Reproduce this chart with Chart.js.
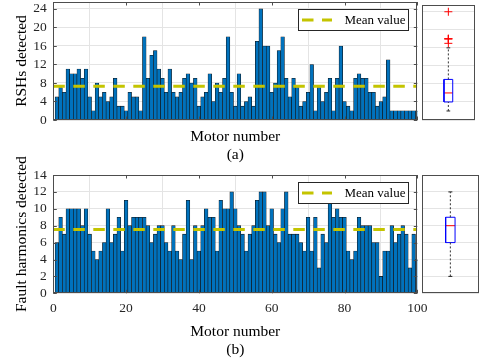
<!DOCTYPE html>
<html>
<head>
<meta charset="utf-8">
<script src="https://cdn.jsdelivr.net/npm/chart.js@4.4.1/dist/chart.umd.min.js"></script>
<style>
  html, body { margin: 0; padding: 0; background: #fff; overflow: hidden; }
  body { width: 480px; height: 358px; position: relative; }
  canvas { position: absolute; left: 0; top: 0; }
</style>
</head>
<body>
<canvas id="rshChart" width="480" height="358"></canvas>
<canvas id="faultChart" width="480" height="358"></canvas>
<canvas id="rshBox" width="480" height="358"></canvas>
<canvas id="faultBox" width="480" height="358"></canvas>
<script>
// motor index 1..100
const motors = Array.from({length: 100}, (_, i) => i + 1);

const rshCounts = [
  5, 7, 6, 11, 10, 10, 11, 9, 11, 5,
  2, 8, 5, 6, 4, 5, 9, 3, 3, 2,
  6, 5, 5, 2, 18, 9, 14, 15, 11, 9,
  6, 11, 6, 5, 6, 9, 10, 8, 9, 3,
  5, 6, 10, 4, 8, 6, 9, 18, 6, 3,
  10, 3, 4, 5, 3, 17, 24, 16, 16, 6,
  8, 15, 18, 9, 5, 9, 7, 3, 4, 6,
  12, 2, 7, 4, 6, 9, 2, 9, 16, 4,
  3, 2, 9, 10, 9, 9, 6, 6, 3, 4,
  5, 13, 2, 2, 2, 2, 2, 2, 2, 2
];

const faultCounts = [
  6, 9, 7, 10, 10, 10, 10, 8, 10, 7,
  5, 4, 5, 6, 10, 6, 7, 9, 5, 11,
  8, 9, 9, 9, 9, 8, 6, 7, 8, 8,
  6, 5, 8, 5, 4, 7, 11, 4, 8, 5,
  8, 10, 9, 9, 5, 11, 10, 10, 12, 10,
  8, 7, 5, 7, 8, 11, 12, 12, 8, 10,
  7, 6, 10, 12, 7, 7, 7, 6, 5, 9,
  5, 9, 3, 7, 6, 11, 9, 10, 9, 9,
  5, 4, 5, 9, 8, 8, 8, 6, 6, 2,
  5, 5, 8, 6, 7, 8, 7, 3, 7, 4
];

const xTicks = [0, 20, 40, 60, 80, 100];
const rshTicks = [0, 4, 8, 12, 16, 20, 24];
const faultTicks = [0, 2, 4, 6, 8, 10, 12, 14];

const serif = '"Liberation Serif", "Times New Roman", serif';
const textCol = '#262626';
const gridCol = '#e4e4e4';
const meanCol = '#c4c400';

// frame around plot area + inward tick marks (matlab style)
const framePlugin = {
  id: 'frame',
  afterDatasetsDraw(chart, args, opts) {
    const {ctx, chartArea: a} = chart;
    ctx.save();
    ctx.strokeStyle = '#4d4d4d';
    ctx.lineWidth = 1;
    ctx.strokeRect(Math.round(a.left) + 0.5, Math.round(a.top) + 0.5,
      Math.round(a.width) - 1, Math.round(a.height) - 1);
    if (opts.ticks) {
      const ys = chart.scales.y, xs = chart.scales.x;
      ctx.beginPath();
      ys.ticks.forEach(t => {
        const p = Math.round(ys.getPixelForValue(t.value)) + 0.5;
        ctx.moveTo(a.left, p); ctx.lineTo(a.left + 3.5, p);
        ctx.moveTo(a.right, p); ctx.lineTo(a.right - 3.5, p);
      });
      xs.ticks.forEach(t => {
        const p = Math.round(xs.getPixelForValue(t.value)) + 0.5;
        ctx.moveTo(p, a.bottom); ctx.lineTo(p, a.bottom - 3.5);
        ctx.moveTo(p, a.top); ctx.lineTo(p, a.top + 3.5);
      });
      ctx.stroke();
    }
    ctx.restore();
  }
};

// boxed legend in the upper right
const legendPlugin = {
  id: 'meanLegend',
  afterDatasetsDraw(chart, args, opts) {
    if (!opts.show) return;
    const {ctx, chartArea: a} = chart;
    const label = chart.data.datasets[0].label;
    const x0 = Math.round(a.right - 119) + 0.5, x1 = Math.round(a.right - 9) + 0.5;
    const y0 = Math.round(a.top + 7) + 0.5, y1 = y0 + 21;
    const yc = (y0 + y1) / 2;
    ctx.save();
    ctx.fillStyle = '#fff';
    ctx.fillRect(x0, y0, x1 - x0, y1 - y0);
    ctx.strokeStyle = textCol;
    ctx.lineWidth = 1;
    ctx.strokeRect(x0, y0, x1 - x0, y1 - y0);
    ctx.strokeStyle = meanCol;
    ctx.lineWidth = 3;
    ctx.setLineDash([11.5, 8.5]);
    ctx.beginPath();
    ctx.moveTo(x0 + 3.5, yc); ctx.lineTo(x0 + 33.5, yc);
    ctx.stroke();
    ctx.setLineDash([]);
    ctx.fillStyle = '#000';
    ctx.font = '13px ' + serif;
    ctx.textBaseline = 'middle';
    ctx.fillText(label, x0 + 46, yc + 0.5);
    ctx.restore();
  }
};

function mean(v) { return v.reduce((s, x) => s + x, 0) / v.length; }

function quant(s, p) {
  const n = s.length, pos = p * n + 0.5;
  if (pos <= 1) return s[0];
  if (pos >= n) return s[n - 1];
  const i = Math.floor(pos);
  return s[i - 1] + (pos - i) * (s[i] - s[i - 1]);
}

function boxStats(vals) {
  const s = [...vals].sort((a, b) => a - b);
  const q1 = quant(s, 0.25), med = quant(s, 0.5), q3 = quant(s, 0.75);
  const iqr = q3 - q1, lo = q1 - 1.5 * iqr, hi = q3 + 1.5 * iqr;
  const inside = s.filter(v => v >= lo && v <= hi);
  return {q1, med, q3, lo: inside[0], hi: inside[inside.length - 1],
    out: s.filter(v => v < lo || v > hi)};
}

// all canvases are full page; padding places each plot area
function barChart(id, counts, yMax, yTicks, yTitle, sub, lay) {
  const m = mean(counts);
  return new Chart(document.getElementById(id), {
    type: 'bar',
    data: {
      datasets: [{
        type: 'line',
        label: 'Mean value',
        data: [{x: 0, y: m}, {x: 100, y: m}],
        borderColor: meanCol,
        borderWidth: 3,
        borderDash: [11.5, 8.5],
        pointRadius: 0,
        order: 0
      }, {
        label: yTitle,
        data: motors.map((n, i) => ({x: n, y: counts[i]})),
        backgroundColor: '#0072bd',
        borderColor: '#111',
        borderWidth: 0.6,
        barPercentage: 1,
        categoryPercentage: 1,
        order: 1
      }]
    },
    options: {
      responsive: false,
      animation: false,
      devicePixelRatio: 1,
      layout: {padding: {top: lay.top, right: 62.7, left: 0, bottom: lay.bottom}},
      plugins: {
        legend: {display: false},
        tooltip: {enabled: false},
        frame: {ticks: true},
        meanLegend: {show: true}
      },
      scales: {
        x: {
          type: 'linear',
          min: 0, max: 100,
          offset: false,
          afterBuildTicks: s => { s.ticks = xTicks.map(v => ({value: v})); },
          afterFit: s => { s.height = lay.xh; s.paddingLeft = 0; s.paddingRight = 0; },
          grid: {color: gridCol, drawTicks: false},
          border: {display: false},
          ticks: {display: lay.xLabels, autoSkip: false, maxRotation: 0, padding: 6.6,
            color: textCol, font: {family: serif, size: 13.5}},
          title: {display: true, text: ['Motor number', sub], color: '#000',
            font: {family: serif, size: 15.5, lineHeight: '18.5px'},
            padding: {top: 0, bottom: lay.tb}}
        },
        y: {
          min: 0, max: yMax,
          afterBuildTicks: s => { s.ticks = yTicks.map(v => ({value: v})); },
          afterFit: s => { s.width = 53.3; s.paddingTop = 0; s.paddingBottom = 0; },
          grid: {color: gridCol, drawTicks: false},
          border: {display: false},
          ticks: {autoSkip: false, padding: 6.6, color: textCol,
            font: {family: serif, size: 13.5}},
          title: {display: true, text: yTitle, color: '#000',
            font: {family: serif, size: 15.5, lineHeight: '18.5px'},
            padding: {top: 12.4, bottom: 0}}
        }
      }
    },
    plugins: [framePlugin, legendPlugin]
  });
}

function boxChart(id, counts, yMax, yTicks, lay) {
  const st = boxStats(counts);
  const bw = 0.082, cw = 0.035;
  const seg = (pts, color, dash) => ({
    data: pts, showLine: true, borderColor: color, borderWidth: 1,
    borderDash: dash || [], pointRadius: 0, fill: false
  });
  return new Chart(document.getElementById(id), {
    type: 'scatter',
    data: {
      datasets: [
        seg([{x: 1, y: st.q3}, {x: 1, y: st.hi}], '#333', [2, 2]),
        seg([{x: 1, y: st.lo}, {x: 1, y: st.q1}], '#333', [2, 2]),
        seg([{x: 1 - cw, y: st.hi}, {x: 1 + cw, y: st.hi}], '#222'),
        seg([{x: 1 - cw, y: st.lo}, {x: 1 + cw, y: st.lo}], '#222'),
        seg([{x: 1 - bw, y: st.q1}, {x: 1 + bw, y: st.q1}, {x: 1 + bw, y: st.q3},
             {x: 1 - bw, y: st.q3}, {x: 1 - bw, y: st.q1}], '#0000ff'),
        seg([{x: 1 - bw, y: st.med}, {x: 1 + bw, y: st.med}], '#ff0000'),
        {
          data: st.out.map(v => ({x: 1, y: v})),
          pointStyle: 'cross', pointRadius: 4, borderColor: '#ff0000',
          borderWidth: 1, showLine: false
        }
      ]
    },
    options: {
      responsive: false,
      animation: false,
      devicePixelRatio: 1,
      layout: {padding: {top: lay.top, right: 1, left: 421.7, bottom: lay.bottom + lay.xh}},
      plugins: {legend: {display: false}, tooltip: {enabled: false}, frame: {ticks: false}},
      scales: {
        x: {type: 'linear', min: 0.5, max: 1.5, display: false},
        y: {
          min: 0, max: yMax,
          afterBuildTicks: s => { s.ticks = yTicks.map(v => ({value: v})); },
          afterFit: s => { s.width = 0; s.paddingTop = 0; s.paddingBottom = 0; },
          grid: {color: gridCol, drawTicks: false},
          border: {display: false},
          ticks: {display: false}
        }
      }
    },
    plugins: [framePlugin]
  });
}

const layA = {top: 2, bottom: 193, xh: 45, tb: 0.75, xLabels: false};
const layB = {top: 175, bottom: 0, xh: 64.7, tb: -1.25, xLabels: true};

barChart('rshChart', rshCounts, 25.5, rshTicks, 'RSHs detected', '(a)', layA);
barChart('faultChart', faultCounts, 14, faultTicks, 'Fault harmonics detected', '(b)', layB);
boxChart('rshBox', rshCounts, 25.5, rshTicks, layA);
boxChart('faultBox', faultCounts, 14, faultTicks, layB);
</script>
</body>
</html>
